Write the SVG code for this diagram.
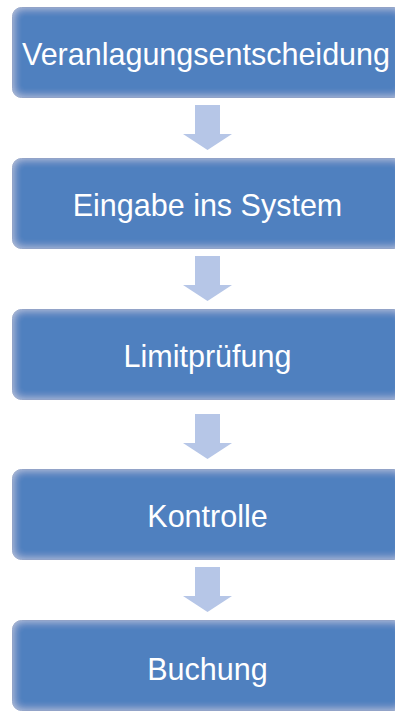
<svg xmlns="http://www.w3.org/2000/svg" width="395" height="713" viewBox="0 0 395 713">
<defs>
<filter id="bevel" x="-5%" y="-20%" width="110%" height="140%">
<feGaussianBlur in="SourceAlpha" stdDeviation="5" result="b"/>
<feComponentTransfer in="b" result="inv"><feFuncA type="linear" slope="-1" intercept="1"/></feComponentTransfer>
<feFlood flood-color="#ffffff" flood-opacity="0.55"/>
<feComposite in2="inv" operator="in" result="glow"/>
<feComposite in="glow" in2="SourceAlpha" operator="in" result="inner"/>
<feMerge><feMergeNode in="SourceGraphic"/><feMergeNode in="inner"/></feMerge>
</filter>
<path id="arrow" d="M-12.5,0 H12.5 V29 H24.5 L0,45 L-24.5,29 H-12.5 Z"/>
</defs>
<style>
.box{fill:#5080bf;stroke:#3d6eb0;stroke-width:1;filter:url(#bevel)}
.lbl{font-family:"Liberation Sans",Arial,sans-serif;font-size:30.5px;fill:#ffffff;text-anchor:middle}
.arr{fill:#b6c6e7}
</style>
<g id="connectors">
<use href="#arrow" class="arr" x="207.5" y="105"/>
<use href="#arrow" class="arr" x="207.5" y="256"/>
<use href="#arrow" class="arr" x="207.5" y="414"/>
<use href="#arrow" class="arr" x="207.5" y="567"/>
</g>
<g id="n1"><rect class="box" x="12.5" y="7.5" width="391" height="90" rx="9"/><text class="lbl" x="206" y="65">Veranlagungsentscheidung</text></g>
<g id="n2"><rect class="box" x="12.5" y="158.5" width="391" height="90" rx="9"/><text class="lbl" x="207.5" y="216">Eingabe ins System</text></g>
<g id="n3"><rect class="box" x="12.5" y="309.5" width="391" height="90" rx="9"/><text class="lbl" x="207.5" y="367">Limitprüfung</text></g>
<g id="n4"><rect class="box" x="12.5" y="469.5" width="391" height="90" rx="9"/><text class="lbl" x="207.5" y="527">Kontrolle</text></g>
<g id="n5"><rect class="box" x="12.5" y="620.5" width="391" height="90" rx="9"/><text class="lbl" x="207.5" y="680">Buchung</text></g>
</svg>
